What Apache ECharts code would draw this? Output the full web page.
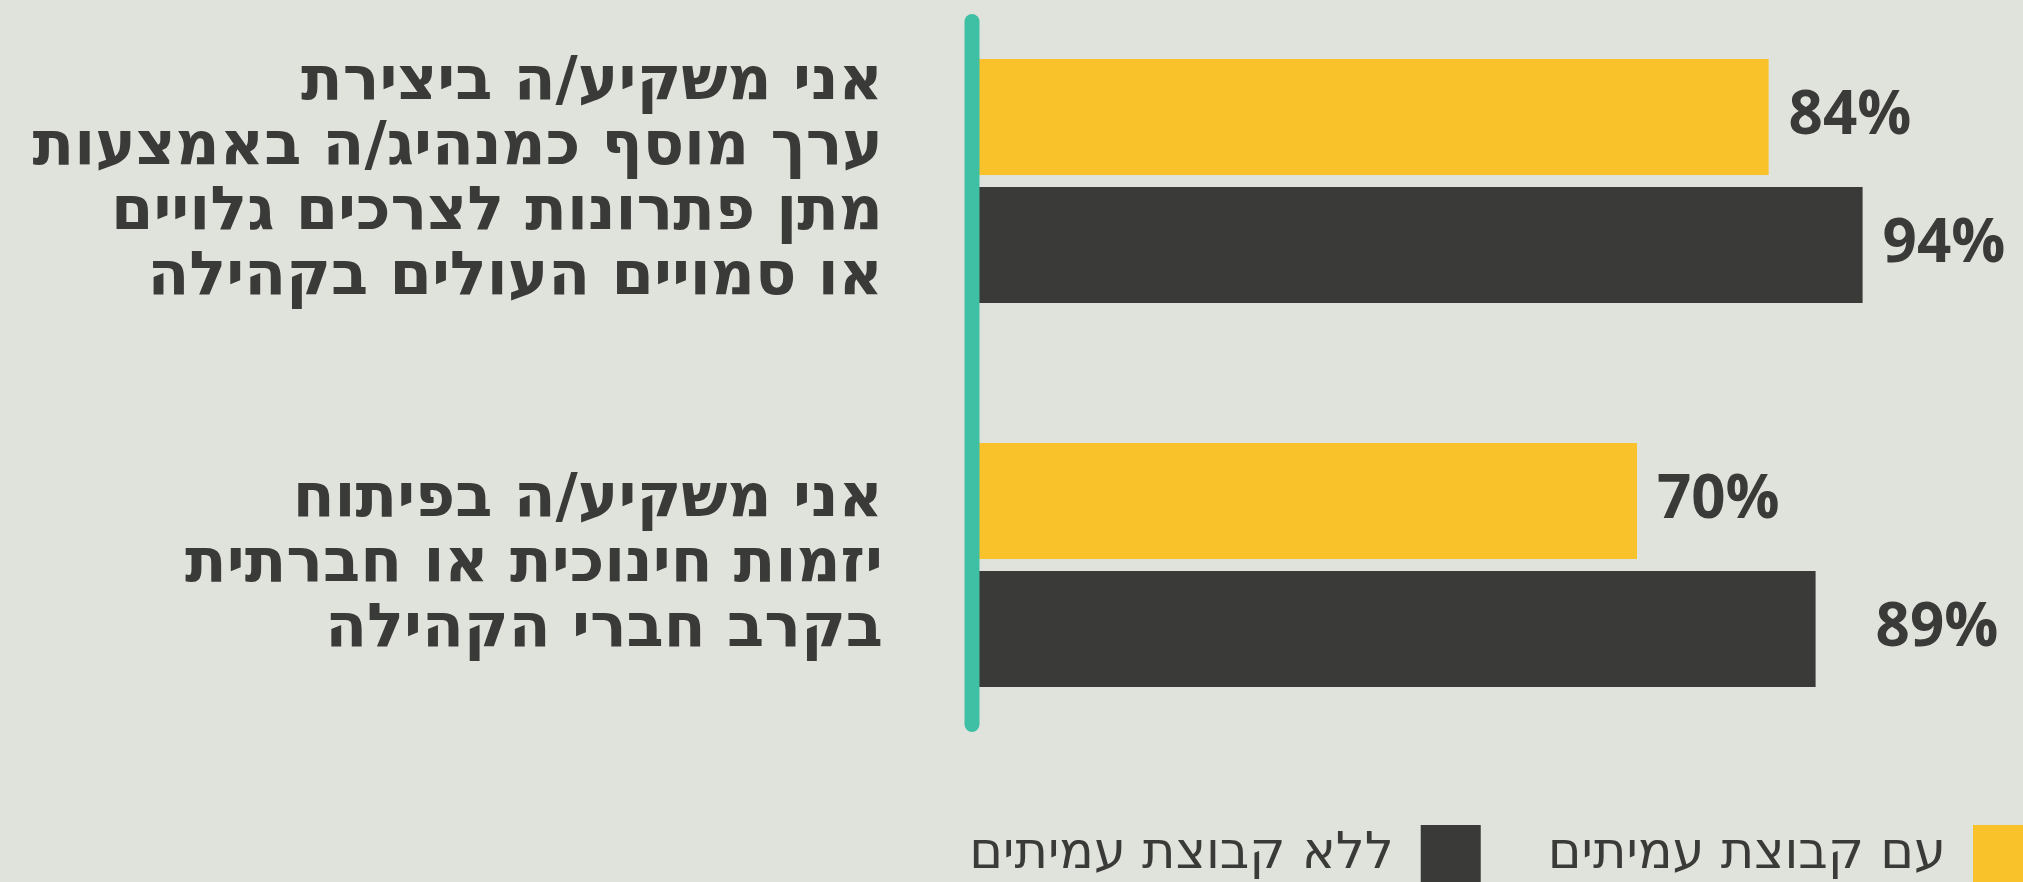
<!DOCTYPE html>
<html>
<head>
<meta charset="utf-8">
<script src="https://cdn.jsdelivr.net/npm/echarts@6/dist/echarts.min.js"></script>
<style>
  html, body { margin: 0; padding: 0; background: #e0e2dc; }
  #chart { width: 2023px; height: 882px; }
</style>
</head>
<body>
<div id="chart"></div>
<script>
// ---- data ----
const categories = [
  'אני משקיע/ה ביצירת\nערך מוסף כמנהיג/ה באמצעות\nמתן פתרונות לצרכים גלויים\nאו סמויים העולים בקהילה',
  'אני משקיע/ה בפיתוח\nיזמות חינוכית או חברתית\nבקרב חברי הקהילה'
];
const seriesNames = ['עם קבוצת עמיתים', 'ללא קבוצת עמיתים'];
const withPeers = [84, 70];
const withoutPeers = [94, 89];

const textColor = '#3a3a38';
const hebrewFont = 'DejaVu Sans';
const chart = echarts.init(document.getElementById('chart'));

function labelCfg() {
  return {
    show: true,
    position: 'right',
    distance: 20,
    formatter: '{c}%',
    fontFamily: 'Open Sans',
    fontWeight: 'bold',
    fontSize: 60,
    color: textColor
  };
}

chart.setOption({
  backgroundColor: '#e0e2dc',
  animation: false,
  grid: { left: 979, right: 104, top: 181, height: 384 },
  xAxis: {
    type: 'value', min: 0, max: 100,
    show: false
  },
  yAxis: {
    type: 'category',
    data: categories,
    inverse: true,
    boundaryGap: false,
    axisLine: { show: false },
    axisTick: { show: false },
    splitLine: { show: false },
    axisLabel: {
      margin: 96,
      align: 'right',
      fontFamily: hebrewFont,
      fontWeight: 'bold',
      fontSize: 61,
      lineHeight: 65,
      color: textColor
    }
  },
  legend: {
    data: [seriesNames[1], seriesNames[0]],
    right: -10,
    top: 825,
    padding: 0,
    align: 'right',
    itemWidth: 60,
    itemHeight: 60,
    itemGap: 67,
    icon: 'rect',
    selectedMode: false,
    textStyle: {
      fontFamily: hebrewFont,
      fontSize: 51,
      color: textColor,
      padding: [0, 22, 0, 0]
    }
  },
  series: [
    {
      name: seriesNames[0],
      type: 'bar',
      data: withPeers,
      barWidth: 116,
      barGap: '10.3%',
      itemStyle: { color: '#f9c22b' },
      label: labelCfg()
    },
    {
      name: seriesNames[1],
      type: 'bar',
      data: withoutPeers.map((v, i) => i === 1 ? { value: v, label: { distance: 60 } } : v),
      barWidth: 116,
      barGap: '10.3%',
      itemStyle: { color: '#3a3a38' },
      label: labelCfg()
    }
  ],
  graphic: [{
    type: 'line',
    z: 10,
    shape: { x1: 972, y1: 21.5, x2: 972, y2: 724.5 },
    style: { stroke: '#3fbfa3', lineWidth: 15, lineCap: 'round' }
  }]
});
</script>
</body>
</html>
